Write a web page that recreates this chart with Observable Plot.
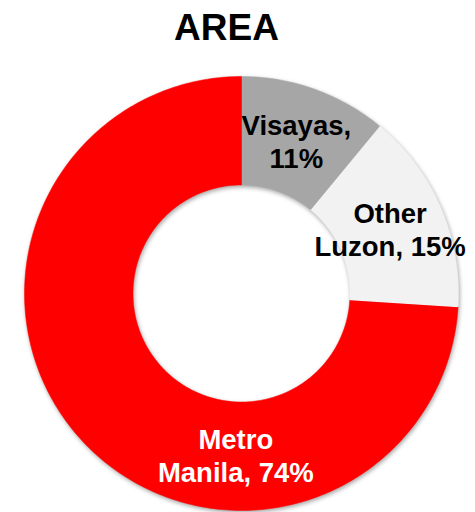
<!DOCTYPE html>
<html>
<head>
<meta charset="utf-8">
<script src="https://cdn.jsdelivr.net/npm/d3@7"></script>
<script src="https://cdn.jsdelivr.net/npm/@observablehq/plot@0.6"></script>
<style>
  html, body { margin: 0; padding: 0; background: #fff; }
  #title { width: 475px; height: 56px; line-height: 56px; text-align: center; font-family: "Liberation Sans", Arial, sans-serif; font-weight: bold; font-size: 37px; color: #000; padding-right: 22px; box-sizing: border-box; }
  #chart svg g[aria-label="line"] { filter: drop-shadow(1px 2px 2px rgba(0,0,0,0.35)); }
</style>
</head>
<body>
<div id="title">AREA</div>
<div id="chart"></div>
<script>
// Data
const categories = ["Visayas", "Other Luzon", "Metro Manila"];
const shares = [11, 15, 74];
const labels = ["Visayas,\n11%", "Other\nLuzon, 15%", "Metro\nManila, 74%"];
const colors = ["#a6a6a6", "#f2f2f2", "#ff0000"];
const textColors = ["#000000", "#000000", "#ffffff"];

// Layout (in radius units)
const innerR = 0.5;
const labelR = 0.746;
const labelAngleOverride = {"Metro Manila": 182};

const total = d3.sum(shares);
let acc = 0;
const slices = categories.map((name, i) => {
  const a0 = acc / total * 360;
  acc += shares[i];
  const a1 = acc / total * 360;
  return {name, a0, a1, label: labels[i], textColor: textColors[i]};
});

const rad = a => a * Math.PI / 180;
const pts = [];
for (const s of slices) {
  const n = Math.max(2, Math.ceil(s.a1 - s.a0));
  for (let k = 0; k <= n; k++) {
    const a = rad(s.a0 + (s.a1 - s.a0) * k / n);
    pts.push({name: s.name, x: Math.sin(a), y: Math.cos(a)});
  }
  for (let k = n; k >= 0; k--) {
    const a = rad(s.a0 + (s.a1 - s.a0) * k / n);
    pts.push({name: s.name, x: innerR * Math.sin(a), y: innerR * Math.cos(a)});
  }
}

const labelData = slices.map(s => {
  const ang = rad(labelAngleOverride[s.name] ?? (s.a0 + s.a1) / 2);
  return {...s, x: labelR * Math.sin(ang), y: labelR * Math.cos(ang)};
});

const W = 475, H = 456, R = 217, cx = 241, cy = 237;

const chart = Plot.plot({
  width: W,
  height: H,
  margin: 0,
  x: {domain: [-cx / R, (W - cx) / R], axis: null},
  y: {domain: [-(H - cy) / R, cy / R], axis: null},
  color: {domain: categories, range: colors},
  style: {background: "transparent", fontFamily: "'Liberation Sans', Arial, sans-serif"},
  marks: [
    Plot.line(pts, {x: "x", y: "y", z: "name", fill: "name", stroke: "name", strokeWidth: 0.5}),
    Plot.text(labelData.filter(d => d.textColor === "#000000"), {
      x: "x", y: "y", text: "label", fill: "#000", fontSize: 27.5, fontWeight: "bold", lineHeight: 1.2
    }),
    Plot.text(labelData.filter(d => d.textColor === "#ffffff"), {
      x: "x", y: "y", text: "label", fill: "#fff", fontSize: 27.5, fontWeight: "bold", lineHeight: 1.2
    })
  ]
});
document.getElementById("chart").appendChild(chart);
</script>
</body>
</html>
